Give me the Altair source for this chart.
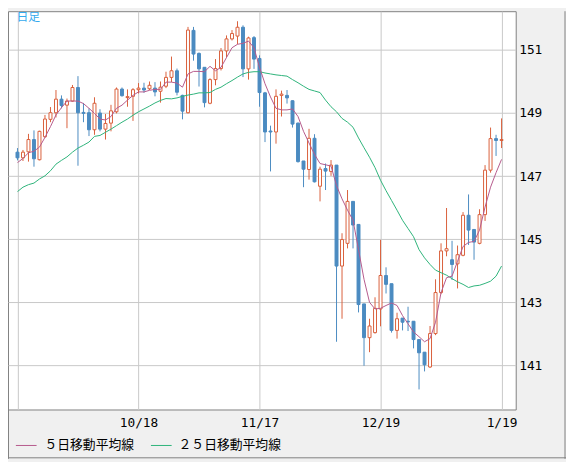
import altair as alt
import pandas as pd

# ---- data ----
opens = [147.76,147.58,147.77,148.16,147.52,148.25,148.80,149.01,149.44,149.25,
         149.38,149.81,149.02,149.01,148.47,149.00,148.49,148.68,149.04,149.76,
         149.49,149.53,149.74,149.79,149.77,149.79,149.69,149.85,150.13,150.34,
         149.56,149.01,151.62,150.89,150.45,149.31,150.06,150.41,150.97,151.35,
         151.44,151.72,150.40,151.39,150.73,149.64,148.43,148.40,149.56,149.56,
         149.39,148.68,147.48,147.21,148.20,146.68,147.24,147.15,147.35,144.15,
         144.87,146.20,145.47,142.95,141.88,142.04,142.79,143.85,143.59,142.11,
         142.50,142.40,142.40,141.82,141.42,140.95,142.01,143.31,144.63,144.35,
         144.22,144.49,145.76,145.31,144.87,145.78,147.19,148.19,148.13]
highs = [147.89,147.83,148.34,148.45,148.44,148.94,149.19,149.73,149.56,149.46,
         149.89,150.17,149.32,149.15,149.50,149.12,148.97,149.26,149.81,149.81,
         149.75,149.79,149.95,149.96,150.00,149.98,150.00,150.31,150.79,150.41,
         149.58,151.73,151.73,150.92,150.45,150.10,150.71,151.06,151.46,151.63,
         151.91,151.78,151.42,151.44,150.83,149.67,148.60,149.75,149.71,149.73,
         149.40,148.70,147.48,148.50,148.33,147.30,147.40,147.51,147.35,145.19,
         146.56,146.20,145.47,142.95,142.48,143.16,144.98,144.11,143.59,142.67,
         142.50,142.86,142.40,141.82,141.42,142.25,143.73,144.87,145.99,144.95,
         144.80,145.86,146.42,145.31,145.95,147.35,148.54,148.31,148.83]
lows = [147.50,147.48,147.46,147.30,147.50,148.21,148.71,148.86,149.15,148.52,
        149.36,147.33,148.71,148.27,148.31,148.42,148.16,148.42,148.99,149.52,
        149.20,148.75,149.62,149.64,149.73,149.53,149.33,149.79,149.98,149.56,
        148.80,148.99,150.66,149.84,149.18,149.28,149.88,150.35,150.76,151.30,
        151.18,150.14,150.06,150.40,149.20,148.08,147.15,148.03,148.89,149.30,
        148.54,147.43,146.65,146.89,146.80,146.20,146.56,147.01,141.75,142.48,
        144.71,144.71,142.68,140.99,141.42,142.01,142.24,143.28,142.04,141.85,
        142.11,142.09,141.54,140.24,140.81,140.92,141.96,143.26,144.46,143.71,
        143.44,144.46,144.82,144.35,144.84,145.58,147.11,147.64,147.89]
closes = [147.58,147.76,148.16,147.55,148.42,148.81,149.01,149.44,149.24,149.38,
          149.81,149.01,148.99,148.47,149.31,148.49,148.67,149.07,149.76,149.55,
          149.52,149.74,149.79,149.73,149.88,149.67,149.82,150.13,150.34,149.66,
          149.06,151.63,150.87,150.40,149.33,150.06,150.41,150.97,151.35,151.52,
          151.72,150.40,151.38,150.71,149.65,148.40,148.40,149.53,149.60,149.48,
          148.65,147.46,147.22,148.20,146.82,147.22,147.16,147.35,144.15,144.99,
          146.20,145.45,142.93,141.88,142.25,142.81,143.85,143.57,142.11,142.48,
          142.37,142.38,141.82,141.40,141.02,142.01,143.31,144.63,144.70,144.20,
          144.51,145.76,145.29,144.91,145.78,147.19,148.19,148.13,148.16]
ma5 = [147.43,147.56,147.74,147.79,147.92,148.23,148.57,148.94,149.17,149.38,
       149.38,149.38,149.30,149.15,148.99,148.81,148.78,148.89,149.15,149.25,
       149.41,149.56,149.67,149.67,149.72,149.75,149.75,149.98,149.98,149.95,
       149.82,150.24,150.32,150.32,150.31,150.48,150.34,150.45,150.76,151.07,
       151.18,151.21,151.28,151.07,150.45,149.93,149.51,149.15,149.10,149.10,
       149.13,148.89,148.42,148.05,147.69,147.40,147.36,147.32,146.70,146.28,
       145.92,145.60,144.67,143.73,143.00,142.79,142.81,142.90,142.98,142.90,
       142.58,142.32,142.06,141.91,141.75,141.85,142.37,143.31,143.78,143.83,
       144.30,144.77,144.90,144.93,145.29,146.02,146.65,147.11,147.53]
ma25 = [146.51,146.65,146.73,146.78,146.91,147.01,147.17,147.38,147.50,147.61,
        147.76,147.89,147.98,148.08,148.26,148.29,148.39,148.49,148.60,148.71,
        148.81,148.93,149.04,149.13,149.22,149.32,149.40,149.46,149.45,149.48,
        149.53,149.57,149.60,149.64,149.64,149.65,149.75,149.82,149.93,150.03,
        150.14,150.24,150.29,150.31,150.31,150.27,150.24,150.21,150.19,150.17,
        150.06,149.96,149.85,149.75,149.70,149.65,149.41,149.20,149.04,148.83,
        148.71,148.55,148.21,147.90,147.60,147.27,146.87,146.54,146.23,145.92,
        145.60,145.34,145.08,144.67,144.41,144.20,144.02,143.94,143.86,143.75,
        143.65,143.57,143.47,143.52,143.54,143.60,143.67,143.83,144.15]

x_ticks = [0, 22, 44, 66, 88]
x_labels = ["", "10/18", "11/17", "12/19", "1/19"]
y_ticks = [141, 143, 145, 147, 149, 151]
legend_names = ["５日移動平均線", "２５日移動平均線"]
title_text = "日足"

RED = "#d9603b"
BLUE = "#4b8bc1"
PINK = "#b5598b"
GREEN = "#2db37a"
GRID = "#c8c8c8"

df = pd.DataFrame({"i": list(range(len(opens))), "o": opens, "h": highs,
                   "l": lows, "c": closes, "ma5": ma5, "ma25": ma25})
df["dir"] = ["up" if c >= o else "down" for o, c in zip(opens, closes)]

label_expr = "".join(
    f"datum.value == {v} ? '{t}' : " for v, t in zip(x_ticks, x_labels)) + "''"

xs = alt.Scale(domain=[-0.826, 89.68], nice=False, zero=False)
ys = alt.Scale(domain=[139.603, 152.228], nice=False, zero=False)

x_axis = alt.Axis(values=x_ticks, labelExpr=label_expr, grid=True, gridColor=GRID,
                  ticks=False, domain=False, title=None, labelPadding=7,
                  labelFont="DejaVu Sans Mono", labelFontSize=13, labelColor="#000",
                  labelOverlap=False)
y_axis = alt.Axis(values=y_ticks, orient="right", grid=True, gridColor=GRID,
                  ticks=False, domain=False, title=None, labelPadding=3,
                  labelFont="DejaVu Sans Mono", labelFontSize=13, labelColor="#000")

base = alt.Chart(df)

wicks = base.mark_rule(strokeWidth=1).encode(
    x=alt.X("i:Q", scale=xs, axis=x_axis),
    y=alt.Y("l:Q", scale=ys, axis=y_axis),
    y2="h:Q",
    color=alt.Color("dir:N", scale=alt.Scale(domain=["up", "down"], range=[RED, BLUE]),
                    legend=None),
)
bodies_up = base.transform_filter(alt.datum.dir == "up").mark_bar(
    size=3, fill="white", stroke=RED, strokeWidth=1).encode(
    x=alt.X("i:Q", scale=xs), y=alt.Y("o:Q", scale=ys), y2="c:Q")
bodies_down = base.transform_filter(alt.datum.dir == "down").mark_bar(
    size=3, fill=BLUE, stroke=BLUE, strokeWidth=1).encode(
    x=alt.X("i:Q", scale=xs), y=alt.Y("o:Q", scale=ys), y2="c:Q")

line5 = base.mark_line(color=PINK, strokeWidth=1).encode(
    x=alt.X("i:Q", scale=xs), y=alt.Y("ma5:Q", scale=ys))
line25 = base.mark_line(color=GREEN, strokeWidth=1).encode(
    x=alt.X("i:Q", scale=xs), y=alt.Y("ma25:Q", scale=ys))

one = alt.Chart(pd.DataFrame({"k": [0]}))

title = one.mark_text(text=title_text, font="Noto Sans CJK JP", fontSize=12,
                      color="#35aaee", align="left", baseline="top").encode(
    x=alt.value(8.5), y=alt.value(0.5))

leg_line1 = one.mark_rule(color=PINK, strokeWidth=1).encode(
    x=alt.value(8), x2=alt.value(29), y=alt.value(440.5))
leg_line2 = one.mark_rule(color=GREEN, strokeWidth=1).encode(
    x=alt.value(145), x2=alt.value(166), y=alt.value(440.5))
leg_text1 = one.mark_text(text=legend_names[0], font="Noto Sans CJK JP", fontSize=13,
                          color="#000", align="left", baseline="middle").encode(
    x=alt.value(37), y=alt.value(440.5))
leg_text2 = one.mark_text(text=legend_names[1], font="Noto Sans CJK JP", fontSize=13,
                          color="#000", align="left", baseline="middle").encode(
    x=alt.value(173), y=alt.value(440.5))

border_r = one.mark_rule(color="#808080", strokeWidth=1).encode(
    x=alt.value(565), y=alt.value(0), y2=alt.value(454))
border_b = one.mark_rule(color="#808080", strokeWidth=1).encode(
    x=alt.value(0), x2=alt.value(566), y=alt.value(453))
border_l = one.mark_rule(color="#808080", strokeWidth=1).encode(
    x=alt.value(0.5), y=alt.value(404), y2=alt.value(454))

chart = alt.layer(
    wicks, bodies_up, bodies_down, line25, line5, title,
    leg_line1, leg_line2, leg_text1, leg_text2, border_r, border_b, border_l
).properties(
    width=515, height=404,
    autosize=alt.AutoSizeParams(type="none"),
    padding={"left": 0, "top": 0, "right": 51, "bottom": 50},
    background="#f0f0f0",
).configure_view(
    fill="white", stroke="#808080", strokeWidth=1
)

chart.save("out.html", embed_options={"renderer": "svg", "actions": False})
